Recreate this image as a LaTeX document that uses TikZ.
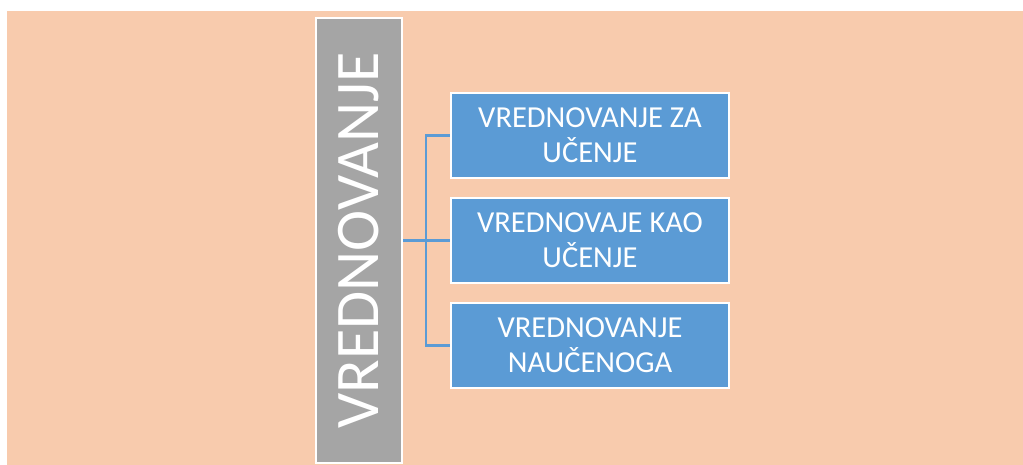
\documentclass[tikz,border=0pt]{standalone}
\usepackage{fontspec}
\setmainfont{Carlito}
\definecolor{fondo}{HTML}{F8CBAD}
\definecolor{gris}{HTML}{A5A5A5}
\definecolor{azul}{HTML}{5B9BD5}
\begin{document}
\begin{tikzpicture}[x=1pt, y=1pt]
    % Estilo para el nodo principal
    \tikzstyle{main_style} = [draw=white, line width=2.5pt, fill=gris, text=white, rotate=90, minimum width=445pt, minimum height=86pt, inner sep=0pt, font=\fontsize{62}{62}\selectfont]

    % Estilo para las cajas
    \tikzstyle{box_style} = [draw=white, line width=2.5pt, fill=azul, text=white, minimum width=278pt, minimum height=85pt, inner sep=0pt, align=center, font=\fontsize{30.5}{35}\selectfont]

    % Estilo para las conexiones
    \tikzstyle{conn_style} = [-, line width=2.5pt, draw=azul]

    % Fondo
    \useasboundingbox (0, 0) rectangle (1023, 465);
    \fill[fondo] (7, 0) rectangle (1023, 454);

    % Nodos
    \node[main_style] (V) at (359, 224.5) {VREDNOVANJE};
    \node[box_style] (A) at (590, 329.5) {VREDNOVANJE ZA\\UČENJE};
    \node[box_style] (B) at (590, 224.5) {VREDNOVAJE KAO\\UČENJE};
    \node[box_style] (C) at (590, 119.5) {VREDNOVANJE\\NAUČENOGA};
    \coordinate (hub) at (426, 224.5);

    % Conexiones
    \draw[conn_style] (V) -- (hub);
    \draw[conn_style] (hub) |- (A);
    \draw[conn_style] (hub) |- (B);
    \draw[conn_style] (hub) |- (C);

\end{tikzpicture}
\end{document}
